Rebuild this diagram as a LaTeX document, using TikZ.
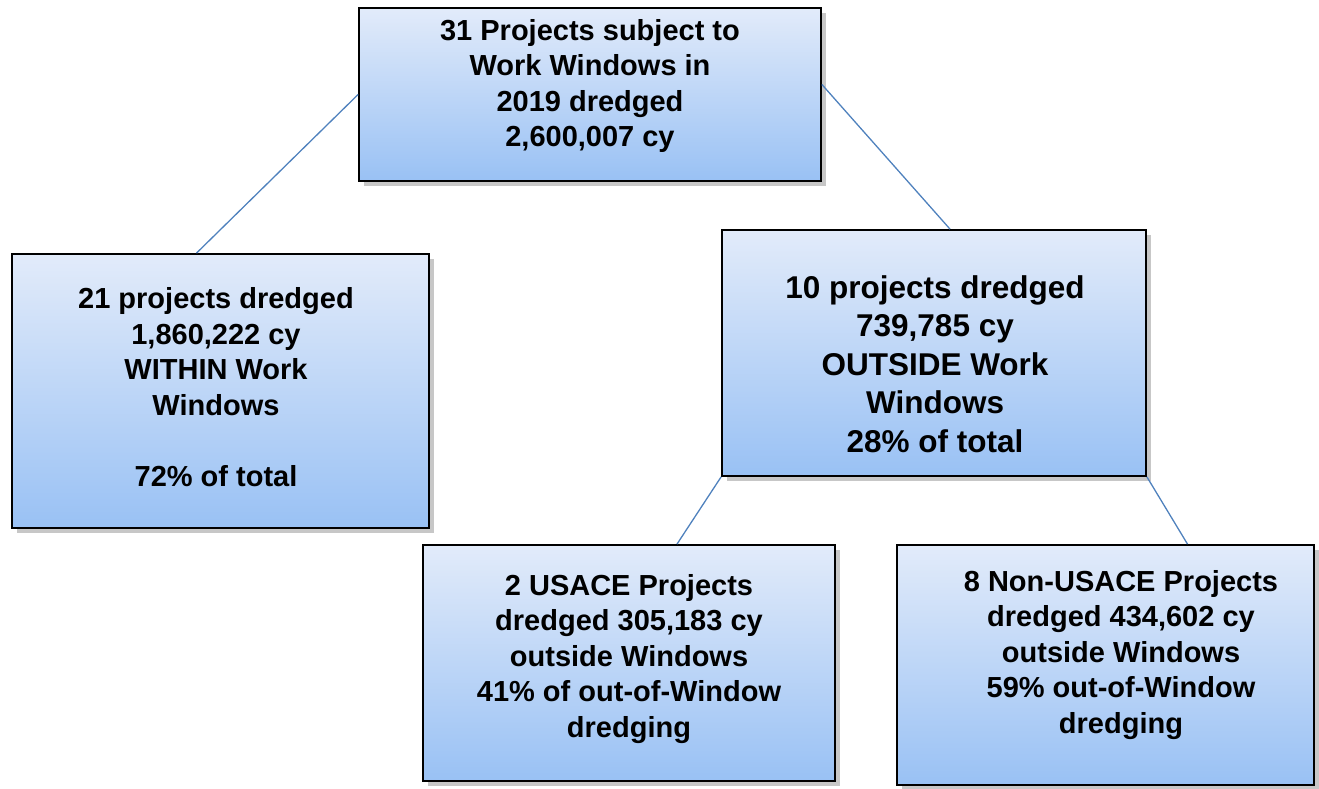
\documentclass[tikz,border=0pt]{standalone}
\usepackage{fontspec}
\setmainfont{Liberation Sans}
\usetikzlibrary{shadows}
\definecolor{boxtop}{RGB}{226,235,250}
\definecolor{boxbottom}{RGB}{153,193,244}
\definecolor{linkblue}{RGB}{79,129,189}
\begin{document}
\begin{tikzpicture}[x=1pt,y=-1pt,
  panel/.style={draw=black, line width=1.8pt, inner sep=0pt,
    top color=boxtop, bottom color=boxbottom,
    drop shadow={shadow xshift=5pt, shadow yshift=-5pt, fill=black!22, opacity=1}},
  label/.style={align=center, inner sep=0pt,
    font=\bfseries\fontsize{29}{35.5}\selectfont},
  biglabel/.style={align=center, inner sep=0pt,
    font=\bfseries\fontsize{31.5}{38.5}\selectfont},
  link/.style={draw=linkblue, line width=1.3pt}]
\useasboundingbox (0,0) rectangle (1319,789);

% boxes
\node[panel, minimum width=462pt, minimum height=173pt] (top) at (590,94.5) {};
\node[panel, minimum width=417pt, minimum height=274pt] (within) at (220.5,391) {};
\node[panel, minimum width=424pt, minimum height=246pt] (outside) at (934,353) {};
\node[panel, minimum width=412pt, minimum height=236pt] (usace) at (629,663) {};
\node[panel, minimum width=417pt, minimum height=240pt] (nonusace) at (1105.5,665) {};

% texts
\node[label] (ttop) at (590,86) {31 Projects subject to\\Work Windows in\\2019 dredged\\2,600,007 cy};
\node[label] (twithin) at (216,387) {21 projects dredged\\1,860,222 cy\\WITHIN Work\\Windows\\[35.5pt]72\% of total};
\node[biglabel] (toutside) at (935,364) {10 projects dredged\\739,785 cy\\OUTSIDE Work\\Windows\\28\% of total};
\node[label] (tusace) at (629,659) {2 USACE Projects\\dredged 305,183 cy\\outside Windows\\41\% of out-of-Window\\dredging};
\node[label] (tnonusace) at (1121,655) {8 Non-USACE Projects\\dredged 434,602 cy\\outside Windows\\59\% out-of-Window\\dredging};

% connectors
\draw[link] (top.west) -- ([xshift=-24pt]within.north);
\draw[link] ([yshift=10pt]top.east) -- ([xshift=16pt]outside.north);
\draw[link] (outside.south west) -- ([xshift=48pt]usace.north);
\draw[link] (outside.south east) -- ([xshift=82pt]nonusace.north);
\end{tikzpicture}
\end{document}
